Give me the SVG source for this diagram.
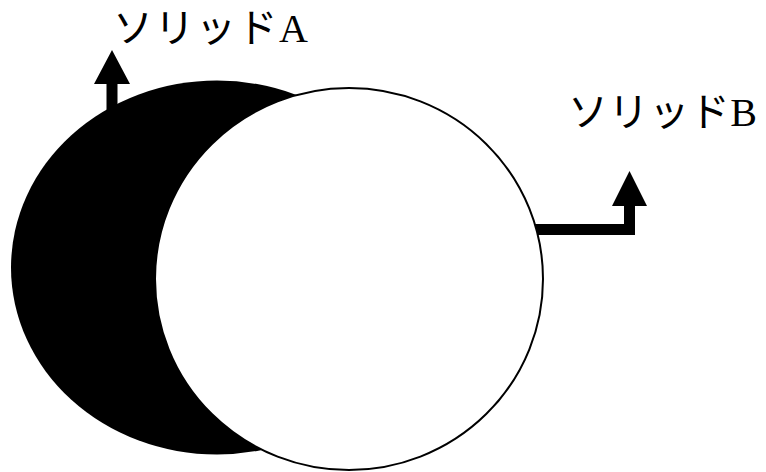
<svg xmlns="http://www.w3.org/2000/svg" width="766" height="472" viewBox="0 0 766 472">
<style>
.lbl{font-family:"Liberation Serif","Noto Sans CJK JP",serif;font-size:40px;fill:#000}
.arrow{fill:#000;stroke:none}
</style>
<rect x="0" y="0" width="766" height="472" fill="#fff"/>
<g id="solidA">
<ellipse cx="217" cy="267.5" rx="206" ry="187" fill="#000"/>
</g>
<g id="connectors">
<path class="arrow" d="M106.5,120 V84 H94 L112,50 L130,84 H117.5 V120 Z"/>
<path class="arrow" d="M520,224 H624 V206 H612 L629.5,171 L647,206 H635 V235 H520 Z"/>
</g>
<g id="solidB">
<ellipse cx="349" cy="279" rx="194" ry="191" fill="#fff" stroke="#000" stroke-width="2"/>
</g>
<g id="labelA">
<text class="lbl" x="113" y="42" textLength="195" lengthAdjust="spacing">ソリッドA</text>
</g>
<g id="labelB">
<text class="lbl" x="568" y="126" textLength="189" lengthAdjust="spacing">ソリッドB</text>
</g>
</svg>
